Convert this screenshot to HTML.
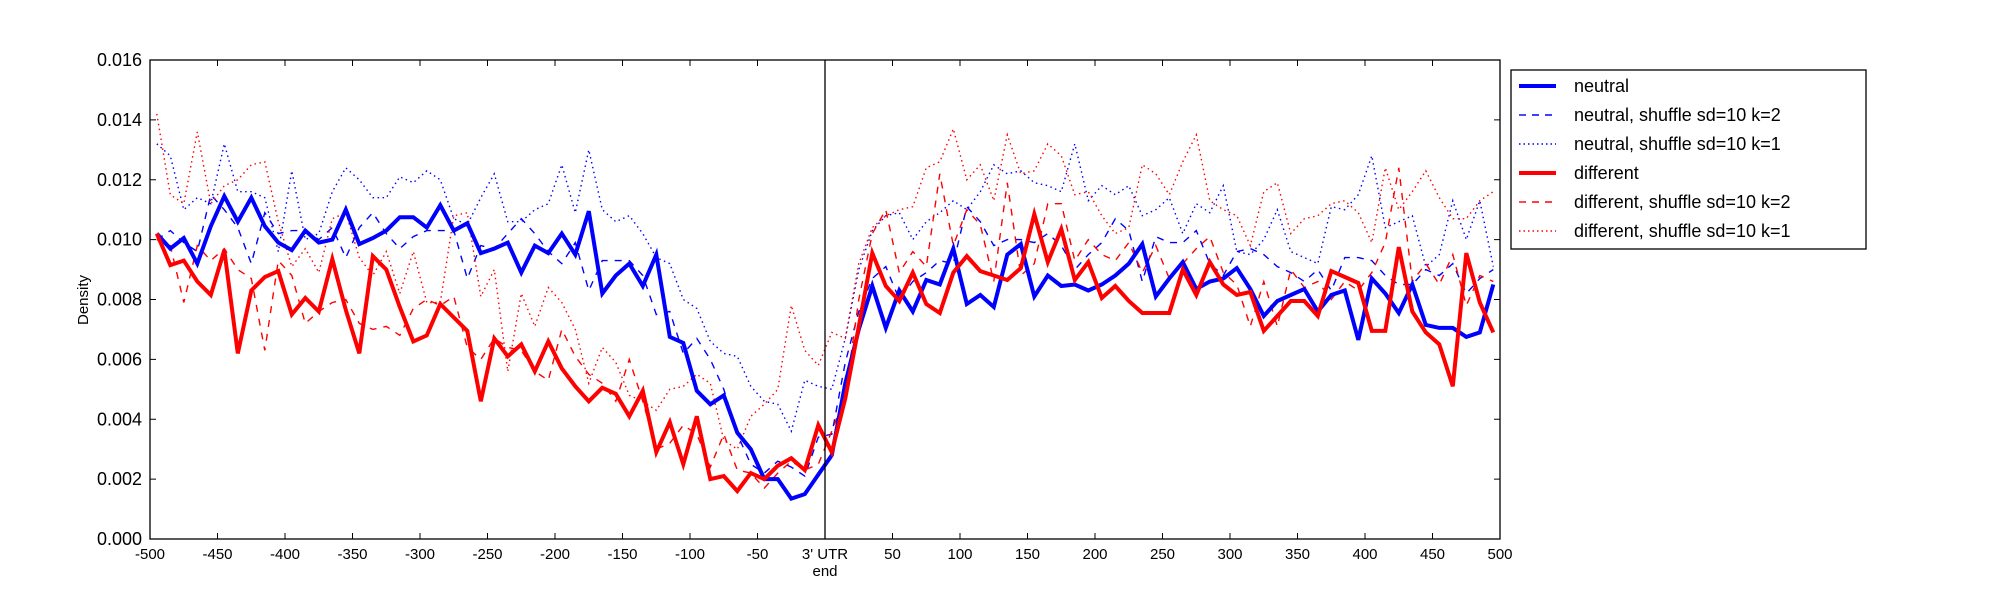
<!DOCTYPE html>
<html><head><meta charset="utf-8"><style>
html,body{margin:0;padding:0;background:#fff;}
svg{display:block;font-family:"Liberation Sans",sans-serif;}
</style></head><body>
<svg id="s" width="2000" height="600" xmlns="http://www.w3.org/2000/svg">
<rect width="2000" height="600" fill="#fff"/>
<g id="g"></g>
</svg>
<script>
const L=150,R=1500,T=60,B=539;
const X=u=>L+(u+500)*1.35, Y=v=>B-v*(B-T)/16;
const xs=[];for(let u=-495;u<=495;u+=10)xs.push(u);
const S={
nd:[10.0,10.3,9.9,9.6,11.5,11.0,10.4,9.2,10.9,10.2,10.3,10.3,10.0,10.4,9.4,10.4,10.9,10.2,9.7,10.1,10.3,10.3,10.3,8.7,9.8,9.7,10.2,10.7,10.2,9.6,9.2,9.9,8.3,9.3,9.3,9.3,8.8,7.5,7.6,6.2,6.7,6.0,5.0,3.5,2.5,2.2,2.6,2.4,2.1,3.4,
3.5,5.9,7.6,8.7,9.1,8.0,8.6,8.9,9.3,9.2,11.1,10.6,9.8,10.0,10.0,9.9,10.2,9.8,9.0,9.5,9.9,10.7,10.3,8.6,10.1,9.9,9.9,10.3,9.2,8.8,9.6,9.7,9.5,9.1,8.9,8.6,9.0,8.3,9.4,9.4,9.3,8.8,8.5,8.5,9.0,8.8,9.2,8.2,8.7,9.0],
nt:[13.2,12.8,11.0,11.4,11.2,13.2,11.6,11.6,11.4,9.6,12.3,10.0,10.2,11.6,12.4,12.0,11.4,11.4,12.1,11.9,12.3,12.0,10.7,10.5,11.4,12.2,10.6,10.6,11.0,11.2,12.5,10.9,13.0,11.0,10.6,10.8,10.2,9.4,9.2,8.0,7.7,6.6,6.2,6.1,5.1,4.6,4.5,3.6,5.3,5.1,
5.0,6.7,9.0,10.3,10.8,10.9,10.0,10.6,10.9,11.3,11.0,11.6,12.5,12.2,12.3,11.9,11.8,11.6,13.2,11.3,11.8,11.5,11.8,10.8,11.0,11.4,10.2,11.2,10.9,11.8,9.6,9.5,10.0,11.0,9.6,9.4,9.2,11.1,11.0,11.5,12.8,10.4,10.6,10.8,9.1,9.5,11.3,10.0,11.3,9.1],
dd:[10.0,9.8,7.9,9.8,9.3,9.7,9.0,8.7,6.3,9.3,8.8,7.2,7.6,7.9,8.0,7.2,7.0,7.1,6.8,7.7,8.0,7.8,8.1,6.4,6.0,6.7,6.4,6.3,5.6,5.3,7.0,6.1,5.5,5.2,4.6,6.0,4.6,3.0,3.2,3.8,3.5,2.4,3.5,2.3,2.2,1.7,2.2,2.6,2.3,2.5,
3.6,4.8,8.0,10.2,11.0,8.9,9.6,9.1,12.2,9.8,11.0,10.5,8.6,11.9,8.8,9.2,11.2,11.2,9.3,10.0,9.5,9.3,9.9,8.9,9.8,8.7,9.2,9.7,10.1,8.9,8.5,7.1,8.6,7.1,9.0,8.4,8.6,8.0,8.6,8.3,8.9,9.9,12.4,8.6,9.2,8.5,9.5,7.8,8.8,8.6],
dt:[14.2,11.5,11.2,13.6,11.2,11.8,12.0,12.5,12.6,10.6,9.1,9.7,8.9,10.7,10.9,9.4,8.8,9.6,8.2,9.6,7.9,7.9,10.8,10.9,8.1,9.0,5.6,8.2,7.1,8.4,7.9,7.0,5.2,6.4,5.9,4.8,4.6,4.3,5.0,5.1,5.5,5.2,3.3,3.0,4.1,4.5,5.0,7.8,6.3,5.8,
6.9,6.7,9.2,10.4,10.8,11.0,11.1,12.4,12.6,13.7,12.0,12.5,11.3,13.5,12.2,12.3,13.2,12.8,11.5,11.6,10.8,10.2,10.4,12.5,12.2,11.5,12.6,13.5,11.3,11.0,10.8,9.8,11.6,11.9,10.2,10.7,10.8,11.2,11.3,10.9,9.9,12.4,11.0,11.6,12.3,11.4,10.7,10.7,11.3,11.6],
n:[10.2,9.7,10.05,9.2,10.45,11.45,10.6,11.4,10.45,9.9,9.65,10.3,9.9,10.0,11.0,9.85,10.05,10.3,10.75,10.75,10.4,11.15,10.3,10.55,9.55,9.7,9.9,8.9,9.8,9.55,10.2,9.5,10.95,8.2,8.8,9.2,8.45,9.5,6.75,6.55,4.95,4.5,4.8,3.55,3.0,2.0,2.0,1.35,1.5,2.15,
2.8,5.2,7.0,8.45,7.05,8.3,7.6,8.65,8.5,9.7,7.85,8.15,7.75,9.5,9.85,8.1,8.8,8.45,8.5,8.3,8.5,8.8,9.2,9.85,8.1,8.7,9.25,8.35,8.6,8.7,9.05,8.35,7.45,7.95,8.15,8.35,7.6,8.15,8.3,6.65,8.7,8.2,7.55,8.5,7.15,7.05,7.05,6.75,6.9,8.5],
d:[10.2,9.15,9.3,8.6,8.15,9.65,6.2,8.3,8.75,8.95,7.5,8.05,7.6,9.35,7.65,6.2,9.45,9.0,7.75,6.6,6.8,7.85,7.4,6.95,4.6,6.7,6.1,6.5,5.6,6.6,5.7,5.1,4.6,5.05,4.85,4.1,4.95,2.9,3.9,2.5,4.1,2.0,2.1,1.6,2.2,2.0,2.45,2.7,2.3,3.8,
2.9,4.7,7.1,9.55,8.45,7.95,8.9,7.85,7.55,8.9,9.45,8.95,8.8,8.65,9.05,10.85,9.25,10.35,8.65,9.25,8.05,8.45,7.95,7.55,7.55,7.55,9.0,8.15,9.25,8.5,8.15,8.25,6.95,7.45,7.95,7.95,7.45,8.95,8.75,8.55,6.95,6.95,9.75,7.6,6.9,6.5,5.1,9.55,7.9,6.9]
};
let h='<defs><clipPath id="c"><rect x="'+L+'" y="'+T+'" width="'+(R-L)+'" height="'+(B-T)+'"/></clipPath></defs><g clip-path="url(#c)">';
const st={nt:['#00f',1.4,'1.5,3.5'],nd:['#00f',1.4,'7,7'],dt:['#f00',1.4,'1.5,3.5'],dd:['#f00',1.4,'7,7'],n:['#00f',4,''],d:['#f00',4,'']};
for(const k of ['nt','nd','dt','dd','n','d']){const p=S[k].map((v,i)=>X(xs[i]).toFixed(1)+','+Y(v).toFixed(1)).join(' ');
h+='<polyline points="'+p+'" fill="none" stroke="'+st[k][0]+'" stroke-width="'+st[k][1]+'" stroke-linejoin="miter"'+(st[k][2]?' stroke-dasharray="'+st[k][2]+'"':'')+'/>';}
h+='</g>';
h+='<line x1="'+X(0)+'" y1="'+T+'" x2="'+X(0)+'" y2="'+B+'" stroke="#000" stroke-width="1.3"/>';
h+='<rect x="'+L+'" y="'+T+'" width="'+(R-L)+'" height="'+(B-T)+'" fill="none" stroke="#000" stroke-width="1.3"/>';
for(let u=-500;u<=500;u+=50){const x=X(u);h+='<line x1="'+x+'" y1="'+B+'" x2="'+x+'" y2="'+(B-6)+'" stroke="#000"/><line x1="'+x+'" y1="'+T+'" x2="'+x+'" y2="'+(T+6)+'" stroke="#000"/>';
h+='<text x="'+x+'" y="'+(B+20)+'" font-size="15" text-anchor="middle">'+(u==0?"3' UTR":u)+'</text>';}
h+='<text x="'+X(0)+'" y="'+(B+37)+'" font-size="15" text-anchor="middle">end</text>';
for(let v=0;v<=16;v+=2){const y=Y(v);h+='<line x1="'+L+'" y1="'+y+'" x2="'+(L+6)+'" y2="'+y+'" stroke="#000"/><line x1="'+R+'" y1="'+y+'" x2="'+(R-6)+'" y2="'+y+'" stroke="#000"/>';
h+='<text x="'+(L-8)+'" y="'+(y+6)+'" font-size="18" text-anchor="end">'+(v/1000).toFixed(3)+'</text>';}
h+='<text transform="translate(88,300) rotate(-90)" font-size="15" text-anchor="middle">Density</text>';
h+='<rect x="1511" y="70" width="355" height="179" fill="#fff" stroke="#000" stroke-width="1.3"/>';
const lg=[['neutral','n'],['neutral, shuffle sd=10 k=2','nd'],['neutral, shuffle sd=10 k=1','nt'],['different','d'],['different, shuffle sd=10 k=2','dd'],['different, shuffle sd=10 k=1','dt']];
lg.forEach((e,i)=>{const y=86+i*29;const s=st[e[1]];
h+='<line x1="1519" y1="'+y+'" x2="1556" y2="'+y+'" stroke="'+s[0]+'" stroke-width="'+s[1]+'"'+(s[2]?' stroke-dasharray="'+(s[2]=='7,7'?'7,6':'1.5,3')+'"':'')+'/>';
h+='<text x="1574" y="'+(y+6)+'" font-size="18">'+e[0]+'</text>';});
document.getElementById('g').innerHTML=h;
</script>
</body></html>
